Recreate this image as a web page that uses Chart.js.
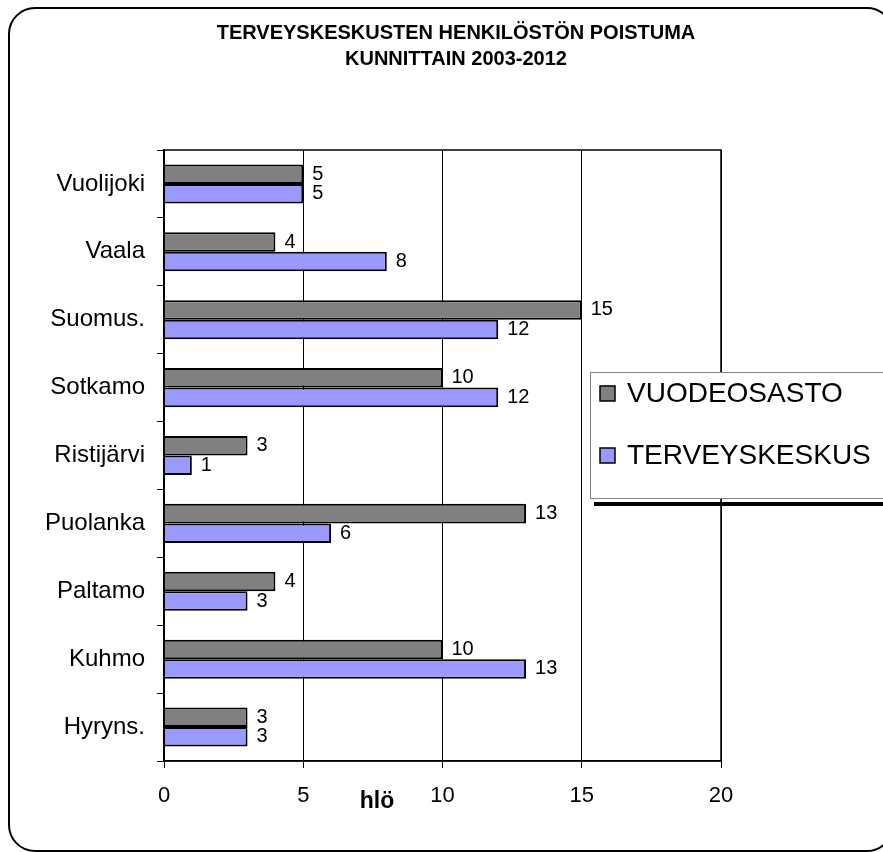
<!DOCTYPE html>
<html>
<head>
<meta charset="utf-8">
<script src="https://cdn.jsdelivr.net/npm/chart.js@4/dist/chart.umd.min.js"></script>
<style>
  html, body { margin: 0; padding: 0; background: #fff; }
  #wrap { width: 883px; height: 852px; position: relative; }
</style>
</head>
<body>
<div id="wrap"><canvas id="chart" width="883" height="852"></canvas></div>
<script>
const municipalities = ["Vuolijoki", "Vaala", "Suomus.", "Sotkamo", "Ristijärvi", "Puolanka", "Paltamo", "Kuhmo", "Hyryns."];
const vuodeosasto = [5, 4, 15, 10, 3, 13, 4, 10, 3];
const terveyskeskus = [5, 8, 12, 12, 1, 6, 3, 13, 3];
const seriesNames = ["VUODEOSASTO", "TERVEYSKESKUS"];
const seriesColors = ["#808080", "#9999ff"];
const titleLines = ["TERVEYSKESKUSTEN HENKILÖSTÖN POISTUMA", "KUNNITTAIN 2003-2012"];
const xTitle = "hlö";

const FONT = "Arial, 'Liberation Sans', sans-serif";

// frame, title, plot border, value labels and legend
const decorations = {
    id: 'decorations',
    beforeDraw(chart) {
        const ctx = chart.ctx;
        ctx.save();
        ctx.fillStyle = '#fff';
        ctx.fillRect(0, 0, chart.width, chart.height);
        ctx.lineWidth = 2;
        ctx.strokeStyle = '#000';
        ctx.beginPath();
        ctx.roundRect(9, 8, 884, 843, 26);
        ctx.stroke();
        ctx.restore();
    },
    afterDatasetsDraw(chart) {
        const ctx = chart.ctx;
        const a = chart.chartArea;
        ctx.save();
        ctx.strokeStyle = '#000';
        ctx.lineWidth = 1.5;
        ctx.strokeRect(a.left, a.top, a.right - a.left, a.bottom - a.top);

        // value labels
        ctx.fillStyle = '#000';
        ctx.font = "20px " + FONT;
        ctx.textBaseline = 'middle';
        ctx.textAlign = 'left';
        chart.data.datasets.forEach((ds, i) => {
            chart.getDatasetMeta(i).data.forEach((bar, j) => {
                ctx.fillText(String(ds.data[j]), bar.x + 9, bar.y);
            });
        });

        // title
        ctx.font = "bold 20px " + FONT;
        ctx.textAlign = 'center';
        ctx.fillText(titleLines[0], 456, 33);
        ctx.fillText(titleLines[1], 456, 59);

        // axis title
        ctx.font = "bold 23px " + FONT;
        ctx.fillText(xTitle, 377, 802);

        // legend
        ctx.fillStyle = '#000';
        ctx.fillRect(594, 502, 300, 4);
        ctx.fillStyle = '#fff';
        ctx.fillRect(590, 372, 300, 127);
        ctx.strokeStyle = '#808080';
        ctx.lineWidth = 1;
        ctx.strokeRect(590.5, 372.5, 300, 126);
        const rows = [393, 455];
        ctx.font = "28px " + FONT;
        ctx.textAlign = 'left';
        seriesNames.forEach((name, i) => {
            ctx.fillStyle = seriesColors[i];
            ctx.fillRect(600, rows[i] - 7, 15, 15);
            ctx.strokeStyle = '#000';
            ctx.lineWidth = 1.5;
            ctx.strokeRect(600, rows[i] - 7, 15, 15);
            ctx.fillStyle = '#000';
            ctx.fillText(name, 627, rows[i] + 1);
        });
        ctx.restore();
    }
};

new Chart(document.getElementById("chart"), {
    type: 'bar',
    data: {
        labels: municipalities,
        datasets: [
            { label: seriesNames[0], data: vuodeosasto, backgroundColor: seriesColors[0] },
            { label: seriesNames[1], data: terveyskeskus, backgroundColor: seriesColors[1] }
        ]
    },
    options: {
        indexAxis: 'y',
        responsive: false,
        animation: false,
        layout: { padding: { top: 150, right: 162, left: 0, bottom: 0 } },
        datasets: {
            bar: {
                borderColor: '#000',
                borderWidth: 2,
                categoryPercentage: 0.575,
                barPercentage: 1
            }
        },
        plugins: {
            legend: { display: false },
            title: { display: false },
            tooltip: { enabled: false }
        },
        scales: {
            x: {
                min: 0,
                max: 20,
                ticks: { stepSize: 5, color: '#000', padding: 15, font: { family: FONT, size: 22 } },
                grid: { color: '#000', lineWidth: 1, tickLength: 7 },
                border: { color: '#000', width: 1.5 },
                afterFit(scale) { scale.height = 91; }
            },
            y: {
                ticks: { color: '#000', padding: 12, font: { family: FONT, size: 24 } },
                grid: { drawOnChartArea: false, color: '#000', tickLength: 7 },
                border: { color: '#000', width: 1.5 },
                afterFit(scale) { scale.width = 164; }
            }
        }
    },
    plugins: [decorations]
});
</script>
</body>
</html>
